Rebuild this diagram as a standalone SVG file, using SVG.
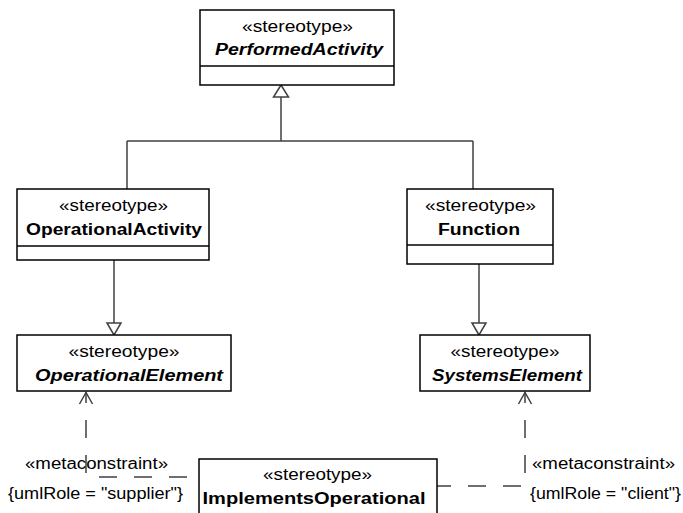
<svg xmlns="http://www.w3.org/2000/svg" width="683" height="513" viewBox="0 0 683 513">
<style>
.box{fill:#fff;stroke:#000;stroke-width:1.5}
.sep{stroke:#000;stroke-width:1.5}
text{font-family:"Liberation Sans",Arial,sans-serif;font-size:16px;fill:#000}
.c{text-anchor:middle}
.b{font-weight:bold}
.bi{font-weight:bold;font-style:italic}
.ln{fill:none;stroke:#404040;stroke-width:1.5}
.tri{fill:#fff;stroke:#404040;stroke-width:1.5}
.dash{fill:none;stroke:#404040;stroke-width:1.5;stroke-dasharray:18 17;stroke-dashoffset:7}
</style>
<rect width="683" height="513" fill="#fff"/>
<g id="connectors">
<path class="ln" d="M281,96 V141 M127,141 H473 M127,141 V189 M473,141 V189"/>
<polygon class="tri" points="281,85 273.5,97 288.5,97"/>
<path class="ln" d="M114,260 V323"/>
<polygon class="tri" points="114,335 107,323 121,323"/>
<path class="ln" d="M479,264 V323"/>
<polygon class="tri" points="479,335 472,323 486,323"/>
<path class="dash" d="M86,392 V477 H199"/>
<path class="ln" d="M79.5,404 L86,392.5 L92.5,404"/>
<path class="dash" d="M525,392 V486 H437"/>
<path class="ln" d="M518.5,404 L525,392.5 L531.5,404"/>
</g>
<g id="PerformedActivity">
<rect class="box" x="200" y="10" width="194" height="75"/>
<line class="sep" x1="200" y1="66" x2="394" y2="66"/>
<text class="c" x="297.5" y="32" textLength="111" lengthAdjust="spacingAndGlyphs">«stereotype»</text>
<text class="c bi" x="299" y="55" textLength="168" lengthAdjust="spacingAndGlyphs">PerformedActivity</text>
</g>
<g id="OperationalActivity">
<rect class="box" x="17" y="189" width="192" height="71"/>
<line class="sep" x1="17" y1="246" x2="209" y2="246"/>
<text class="c" x="113.5" y="211" textLength="109" lengthAdjust="spacingAndGlyphs">«stereotype»</text>
<text class="c b" x="114" y="235" textLength="176" lengthAdjust="spacingAndGlyphs">OperationalActivity</text>
</g>
<g id="Function">
<rect class="box" x="407" y="189" width="146" height="75"/>
<line class="sep" x1="407" y1="245" x2="553" y2="245"/>
<text class="c" x="480.5" y="211" textLength="111" lengthAdjust="spacingAndGlyphs">«stereotype»</text>
<text class="c b" x="479" y="235" textLength="82" lengthAdjust="spacingAndGlyphs">Function</text>
</g>
<g id="OperationalElement">
<rect class="box" x="17" y="335" width="214" height="56"/>
<text class="c" x="124" y="357" textLength="111" lengthAdjust="spacingAndGlyphs">«stereotype»</text>
<text class="c bi" x="129" y="381" textLength="188" lengthAdjust="spacingAndGlyphs">OperationalElement</text>
</g>
<g id="SystemsElement">
<rect class="box" x="420" y="335" width="170" height="56"/>
<text class="c" x="505" y="357" textLength="109" lengthAdjust="spacingAndGlyphs">«stereotype»</text>
<text class="c bi" x="507" y="381" textLength="150" lengthAdjust="spacingAndGlyphs">SystemsElement</text>
</g>
<g id="ImplementsOperational">
<rect class="box" x="199" y="459" width="238" height="70"/>
<text class="c" x="317.5" y="480" textLength="109" lengthAdjust="spacingAndGlyphs">«stereotype»</text>
<text class="c b" x="314" y="504" textLength="223" lengthAdjust="spacingAndGlyphs">ImplementsOperational</text>
</g>
<g id="labels">
<text x="25" y="469" textLength="143" lengthAdjust="spacingAndGlyphs">«metaconstraint»</text>
<text x="8" y="499" textLength="175" lengthAdjust="spacingAndGlyphs">{umlRole = "supplier"}</text>
<text x="532" y="469" textLength="143" lengthAdjust="spacingAndGlyphs">«metaconstraint»</text>
<text x="530" y="499" textLength="151" lengthAdjust="spacingAndGlyphs">{umlRole = "client"}</text>
</g>
</svg>
